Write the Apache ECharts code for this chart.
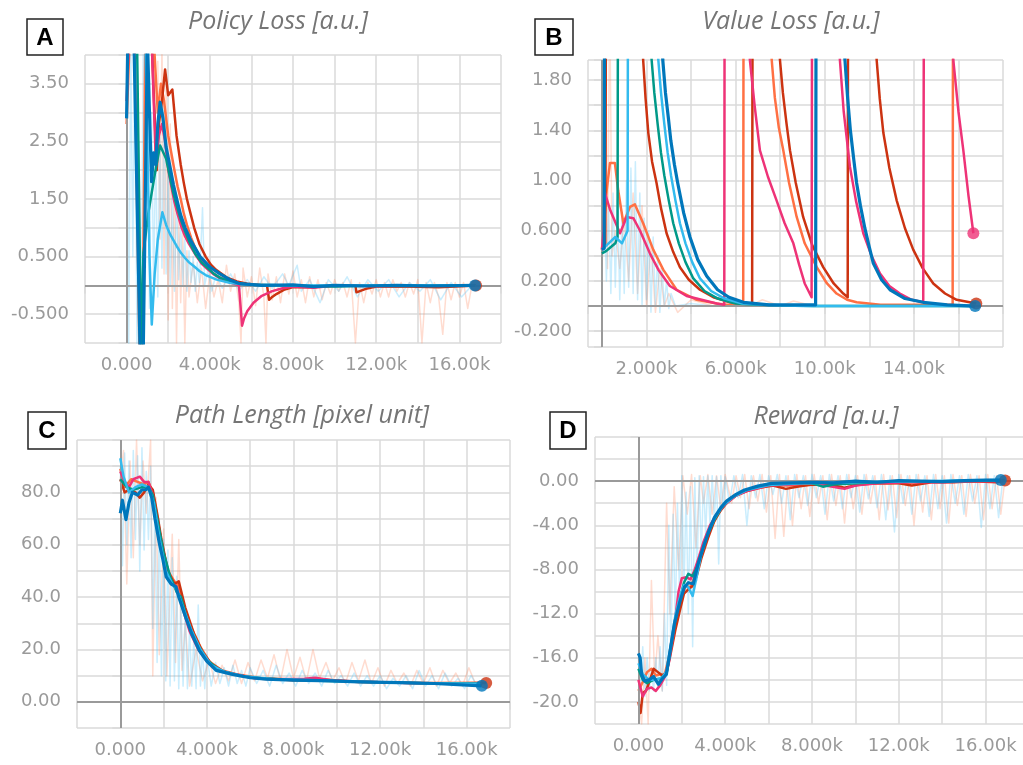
<!DOCTYPE html>
<html>
<head>
<meta charset="utf-8">
<script src="https://cdn.jsdelivr.net/npm/echarts@6/dist/echarts.min.js"></script>
<style>
  html, body { margin: 0; padding: 0; background: #fff; }
  #chart { width: 1023px; height: 765px; }
</style>
</head>
<body>
<div id="chart"></div>
<script>
// tensorboard run colours
const ORANGE = '#ff7043', BLUE = '#0077bb', RED = '#cc3311', CYAN = '#33bbee', PINK = '#ee3377', TEAL = '#009988';

// ---- tick labels
const xTickVals = [0, 4000, 8000, 12000, 16000];
const xTickText = ['0.000', '4.000k', '8.000k', '12.00k', '16.00k'];
const bxTickVals = [2000, 6000, 10000, 14000];
const bxTickText = ['2.000k', '6.000k', '10.00k', '14.00k'];
const aYVals = [3.5, 2.5, 1.5, 0.5, -0.5];
const aYText = ['3.50', '2.50', '1.50', '0.500', '-0.500'];
const bYVals = [1.8, 1.4, 1.0, 0.6, 0.2, -0.2];
const bYText = ['1.80', '1.40', '1.00', '0.600', '0.200', '-0.200'];
const cYVals = [80, 60, 40, 20, 0];
const cYText = ['80.0', '60.0', '40.0', '20.0', '0.00'];
const dYVals = [0, -4, -8, -12, -16, -20];
const dYText = ['0.00', '-4.00', '-8.00', '-12.0', '-16.0', '-20.0'];

const titles = ['Policy Loss [a.u.]', 'Value Loss [a.u.]', 'Path Length [pixel unit]', 'Reward [a.u.]'];
const panelLetters = ['A', 'B', 'C', 'D'];

// ---- A: policy loss (smoothed)
const aOrange = [[0,2.8],[150,4.3],[380,4.3],[620,-1.2],[760,-1.2],[900,4.3],[1300,4.3],[1500,3.0],[1650,3.5],[1800,3.2],[2000,2.6],[2150,2.3],[2300,2.0],[2450,1.72],[2600,1.5],[2750,1.25],[2900,1.05],[3100,0.83],[3300,0.65],[3550,0.48],[3800,0.35],[4100,0.23],[4400,0.15],[5000,0.06],[5800,0.02],[7000,0.0],[9000,-0.02],[11000,0.0],[13000,-0.02],[15000,0.0],[16800,0.0]];
const aRed = [[1200,4.3],[1450,2.0],[1550,2.8],[1700,3.2],[1850,3.75],[2000,3.3],[2200,3.4],[2400,2.6],[2600,2.1],[2750,1.78],[2900,1.5],[3050,1.28],[3250,1.0],[3500,0.72],[3800,0.5],[4050,0.36],[4300,0.27],[4800,0.14],[5300,0.07],[5800,0.03],[6500,0.0],[6750,0.0],[6850,-0.25],[7000,-0.2],[7200,-0.15],[7600,-0.07],[8000,-0.03],[9000,-0.03],[10000,0.0],[11000,0.0],[11050,-0.12],[11500,-0.06],[12000,-0.02],[13500,-0.02],[15000,-0.03],[16800,0.0]];
const aPink = [[0,3.2],[120,4.3],[1200,4.3],[1400,2.2],[1550,2.6],[1700,2.8],[1850,2.5],[2010,2.0],[2150,1.72],[2300,1.45],[2450,1.24],[2650,1.0],[2800,0.86],[3000,0.72],[3370,0.5],[3600,0.38],[3900,0.28],[4200,0.19],[4500,0.12],[5000,0.05],[5400,0.0],[5550,-0.7],[5650,-0.57],[5800,-0.45],[6100,-0.3],[6500,-0.18],[7000,-0.1],[7500,-0.05],[8000,-0.02],[9000,-0.04],[10000,0.0],[12000,-0.01],[14000,0.0],[16700,0.0]];
const aTeal = [[500,4.3],[700,-1.2],[810,0.57],[1050,1.27],[1370,1.96],[1610,2.43],[1700,2.4],[1900,2.2],[2100,1.85],[2250,1.6],[2400,1.4],[2600,1.15],[2800,0.95],[3050,0.73],[3300,0.55],[3600,0.4],[3900,0.3],[4200,0.2],[4500,0.13],[5200,0.04],[6000,0.01],[8000,0.0],[10000,-0.02],[12000,0.0],[16700,0.0]];
const aCyan = [[900,4.3],[1100,0.5],[1210,-0.68],[1350,0.2],[1500,0.8],[1720,1.27],[1900,1.05],[2100,0.88],[2410,0.68],[2600,0.57],[2800,0.48],[3000,0.4],[3210,0.34],[3500,0.25],[3800,0.18],[4330,0.1],[5000,0.04],[6000,0.01],[8000,0.0],[12000,0.0],[16700,0.0]];
const aBlue = [[0,2.9],[60,4.3],[350,4.3],[650,-1.2],[800,-1.2],[1000,4.3],[1100,3.0],[1200,1.8],[1300,2.3],[1400,2.1],[1500,2.8],[1610,3.18],[1750,2.9],[1900,2.4],[2120,2.0],[2250,1.75],[2410,1.5],[2600,1.22],[2810,1.0],[3100,0.77],[3530,0.5],[4000,0.32],[4490,0.2],[5000,0.09],[5450,0.03],[6500,0.0],[8000,0.01],[9000,-0.02],[10000,0.0],[11500,-0.01],[13000,0.0],[14500,-0.01],[16750,0.0]];
const aRawBlue = [[0,4.2],[100,-1.1],[200,4.2],[300,0.5],[400,4.2],[500,-1.1],[600,2.5],[700,-1.1],[800,4.2],[900,0.3],[1000,4.2],[1100,-0.4],[1200,3.0],[1300,0.0],[1400,2.4],[1500,-0.2],[1600,2.6],[1700,0.3],[1800,3.2],[1900,0.2],[2000,2.0],[2100,0.0],[2200,1.6],[2300,-0.1],[2400,1.5],[2500,0.1],[2600,1.1],[2700,0.0],[2800,0.8],[2900,-0.1],[3000,0.6],[3100,0.05],[3200,0.5],[3300,-0.1],[3400,0.4],[3500,0.05],[3650,1.35],[3750,0.0],[3900,0.25],[4100,-0.1],[4300,0.2],[4600,-0.05],[5000,0.2],[5400,-0.1],[5800,0.1],[6200,-0.1],[6600,0.15],[7000,-0.05],[7500,0.2],[7800,0.0],[8200,0.35],[8400,-0.1],[8800,0.1],[9300,-0.3],[9700,0.1],[10200,-0.1],[10600,0.15],[11100,-0.2],[11600,0.1],[12100,-0.1],[12600,0.1],[13100,-0.2],[13600,0.05],[14100,-0.1],[14600,0.1],[15100,-0.25],[15600,0.05],[16100,-0.2],[16600,0.0]];
const aRawOrange = [[1500,3.9],[1600,0.8],[1700,4.2],[1800,0.2],[1900,3.5],[2000,-0.6],[2100,2.8],[2200,-0.4],[2300,1.8],[2400,-1.0],[2500,1.2],[2600,-0.3],[2700,0.9],[2800,-1.0],[2900,0.6],[3000,-0.2],[3200,0.4],[3400,-0.3],[3600,0.3],[3800,-0.4],[4000,0.2],[4200,-0.2],[4400,0.1],[4600,-0.3],[4800,0.35],[5000,-0.1],[5200,0.2],[5400,-0.3],[5500,-1.0],[5600,0.3],[5800,-0.2],[6000,0.15],[6200,-0.35],[6400,0.3],[6600,-0.2],[6700,-1.0],[6800,0.2],[7000,-0.25],[7200,0.15],[7400,-0.3],[7600,0.2],[7800,-0.15],[8000,0.25],[8200,-0.2],[8400,0.1],[8600,-0.3],[8800,0.15],[9000,-0.2],[9200,0.1],[9400,-0.25],[9600,0.05],[9800,-0.15],[10000,0.1],[10200,-0.1],[10400,0.05],[10600,-0.2],[10800,0.1],[11000,-1.0],[11200,0.05],[11400,-0.3],[11600,0.05],[11800,-0.15],[12000,0.1],[12200,-0.2],[12400,0.05],[12600,-0.2],[12800,0.1],[13000,-0.1],[13200,0.05],[13400,-0.2],[13600,0.05],[13800,-0.15],[14000,0.1],[14200,-1.0],[14400,0.05],[14600,-0.3],[14800,0.05],[15000,-0.2],[15200,-0.85],[15400,0.05],[15600,-0.25],[15800,0.05],[16000,-0.2],[16200,0.05],[16400,-0.4],[16600,0.0]];

// ---- B: value loss (smoothed; the jumps come from spikes in the raw loss)
const bOrange = [[0,0.45],[60,0.45],[210,0.92],[360,1.14],[580,1.14],[730,0.92],[960,0.66],[1260,0.79],[1480,0.81],[1850,0.66],[2300,0.45],[2750,0.29],[3350,0.13],[4250,0.05],[5450,0.01],[6340,0.01],[6370,5],[7560,2.2],[7620,1.96],[7760,1.66],[7940,1.42],[8140,1.24],[8400,0.98],[8740,0.71],[9100,0.5],[9640,0.31],[10100,0.18],[10530,0.1],[11000,0.05],[11430,0.03],[12500,0.01],[15740,0.01],[15770,5]];
const bRed = [[0,0.45],[150,0.5],[220,5],[1790,2.2],[1850,1.96],[1960,1.65],[2080,1.38],[2250,1.15],[2450,0.98],[2650,0.78],[2900,0.58],[3200,0.43],[3500,0.31],[3900,0.21],[4400,0.13],[5000,0.07],[5750,0.03],[6740,0.01],[6780,5],[7930,2.2],[7990,1.96],[8120,1.7],[8280,1.46],[8440,1.24],[8700,0.98],[9030,0.71],[9450,0.48],[9930,0.31],[10400,0.18],[10830,0.1],[11030,0.07],[11060,5],[12270,2.2],[12330,1.96],[12470,1.65],[12630,1.38],[12900,1.1],[13230,0.84],[13600,0.62],[13970,0.45],[14400,0.3],[14870,0.18],[15400,0.1],[15920,0.05],[16800,0.02]];
const bPink = [[0,0.45],[80,0.6],[135,0.9],[360,0.77],[810,0.58],[1110,0.71],[1410,0.7],[1710,0.6],[2150,0.42],[2530,0.29],[3050,0.16],[3800,0.08],[5150,0.02],[5490,0.01],[5520,5],[6580,2.2],[6640,1.96],[6850,1.6],[7090,1.24],[7450,1.03],[7840,0.84],[8200,0.66],[8590,0.5],[8850,0.33],[9100,0.18],[9410,0.07],[9450,5],[10620,2.2],[10680,1.96],[10850,1.55],[11130,1.11],[11400,0.84],[11730,0.58],[12100,0.4],[12480,0.26],[12900,0.16],[13370,0.1],[13900,0.05],[14420,0.03],[14480,5],[15720,2.2],[15770,1.96],[16000,1.55],[16220,1.24],[16450,0.88],[16670,0.58]];
const bTeal = [[0,0.42],[200,0.44],[400,0.47],[600,0.5],[700,0.55],[740,5],[2170,2.2],[2230,1.96],[2350,1.7],[2500,1.45],[2650,1.22],[2800,1.04],[3000,0.84],[3200,0.66],[3450,0.5],[3750,0.35],[4100,0.22],[4600,0.12],[5200,0.06],[6000,0.02],[7000,0.01],[9500,0.0],[12000,0.0],[16700,0.0]];
const bCyan = [[0,0.45],[300,0.5],[600,0.55],[900,0.5],[1150,0.6],[1190,5],[2470,2.2],[2530,1.96],[2650,1.7],[2800,1.45],[2950,1.22],[3100,1.04],[3300,0.84],[3500,0.66],[3750,0.5],[4050,0.35],[4400,0.22],[4900,0.12],[5500,0.06],[6300,0.02],[7300,0.01],[9000,0.0],[16700,0.0]];
const bBlue = [[0,0.45],[100,0.46],[140,5],[2670,2.2],[2730,1.96],[2850,1.7],[2980,1.5],[3090,1.32],[3250,1.13],[3400,0.98],[3670,0.74],[3950,0.55],[4300,0.37],[4700,0.24],[5190,0.13],[5700,0.07],[6350,0.03],[7500,0.01],[9590,0.01],[9630,5],[10850,2.2],[10906,1.96],[11030,1.65],[11150,1.4],[11300,1.17],[11430,0.98],[11600,0.8],[11800,0.62],[12000,0.47],[12180,0.34],[12550,0.21],[12930,0.13],[13600,0.06],[14420,0.03],[15500,0.01],[16750,0.0]];
const bRawBlue = [[0,0.3],[100,0.85],[200,0.2],[300,0.8],[400,0.1],[500,0.9],[600,0.15],[700,0.85],[800,0.05],[900,0.75],[1000,0.1],[1100,1.0],[1200,0.15],[1300,1.1],[1400,0.1],[1500,1.15],[1600,0.05],[1700,0.9],[1800,0.0],[1900,0.7],[2000,0.05],[2100,0.6],[2200,-0.05],[2300,0.55],[2400,0.0],[2500,0.4],[2600,-0.05],[2700,0.3],[2800,0.0],[2900,0.2],[3000,-0.02],[3100,0.1],[3300,0.0],[4000,0.02],[5000,0.0]];
const bRawOrange = [[0,0.5],[150,2.5],[250,0.3],[350,2.5],[450,0.4],[600,0.6],[800,0.3],[1000,0.7],[1200,0.2],[1400,0.9],[1600,0.1],[1800,0.8],[2000,0.0],[2200,0.5],[2400,-0.05],[2600,0.3],[2800,0.0],[3000,0.1],[3400,-0.05],[4000,0.05],[5000,0.0],[6000,0.06],[6600,0.0],[7200,0.05],[8000,0.0],[8600,0.04],[9500,0.0]];

// ---- C: path length
const cOrange = [[0,89],[200,82],[500,85],[800,84],[1100,83],[1300,84],[1500,80],[1700,71],[1900,61],[2200,50],[2500,46],[2700,44],[3000,35],[3300,28],[3700,21],[4100,15.5],[4700,12],[5500,10.3],[6500,9],[8000,8.5],[10000,8.0],[12000,7.5],[14000,7.2],[16900,7.3]];
const cRed = [[0,85],[200,80],[400,81],[700,80],[900,78],[1100,80],[1300,83],[1500,81],[1700,72],[1900,62],[2200,50],[2500,45],[2700,46],[3000,36],[3400,26],[3800,19],[4200,14.5],[4800,11.5],[5600,10],[6500,8.8],[7200,8.6],[8000,8.2],[9500,8.4],[11000,7.6],[13000,7.3],[15000,7.0],[16900,7.2]];
const cPink = [[0,88],[200,84],[400,82],[600,85],[900,86],[1100,84],[1300,84],[1500,79],[1700,68],[1900,58],[2100,50],[2300,46],[2600,44],[2900,35],[3200,27],[3600,20],[4000,15.5],[4500,12],[5300,10.5],[6200,9],[7200,8.6],[8500,8.8],[9000,9.2],[10000,8.0],[12000,7.5],[14000,7.0],[16700,6.9]];
const cTeal = [[0,85],[300,82],[600,81],[1000,82],[1300,82],[1500,79],[1700,70],[2000,57],[2300,48],[2600,42],[2800,40],[3100,31],[3500,23],[4000,16],[4600,12],[5500,10],[6500,9],[8000,8.3],[10000,7.9],[12000,7.5],[14000,7.1],[16700,7.0]];
const cCyan = [[0,93],[150,86],[400,80],[700,82],[1000,83],[1300,82],[1550,76],[1800,63],[2100,50],[2400,45],[2600,43],[2900,36],[3300,27],[3700,20],[4200,14],[4800,11.5],[5700,9.8],[7000,8.7],[9000,8.2],[11000,7.7],[13000,7.3],[15000,7.0],[16700,6.9]];
const cBlue = [[0,72],[100,77],[260,69.6],[400,76],[560,80],[800,79],[1000,81],[1190,81],[1300,82],[1450,78],[1600,70],[1800,60.7],[1950,55],[2120,47.7],[2350,45],[2570,44],[2700,40],[3030,32],[3300,26],[3650,19.6],[4000,15.5],[4430,12],[5180,10.5],[6000,9.2],[6730,8.7],[8000,8.3],[9800,8.0],[11000,7.6],[12900,7.3],[14500,7.0],[16700,6.1]];
const cRawBlue = [[0,90],[100,52],[200,95],[300,60],[400,92],[500,55],[600,96],[700,62],[800,94],[900,50],[1000,97],[1100,58],[1200,88],[1300,62],[1400,90],[1500,28],[1600,75],[1700,15],[1800,70],[1900,10],[2000,62],[2100,8],[2200,58],[2300,6],[2400,55],[2500,8],[2600,48],[2700,5],[2800,40],[2900,6],[3000,35],[3100,5],[3200,28],[3300,6],[3400,25],[3500,5],[3600,37],[3700,6],[3800,20],[3900,5],[4000,18],[4200,6],[4400,15],[4600,7],[4800,13],[5000,6],[5200,14],[5400,7],[5600,12],[5800,6],[6000,13],[6300,7],[6600,12],[6900,6],[7200,14],[7500,7],[7800,11],[8100,6],[8400,12],[8700,7],[9000,11],[9300,6],[9600,12],[9900,7],[10200,10],[10500,6],[10800,11],[11100,6],[11400,10],[11700,6],[12000,10],[12300,5],[12600,9],[12900,6],[13200,10],[13500,5],[13800,12],[14100,6],[14400,10],[14700,5],[15000,11],[15300,6],[15600,9],[15900,5],[16200,10],[16500,6],[16800,7]];
const cRawOrange = [[0,85],[150,96],[300,45],[450,92],[600,55],[750,100],[900,60],[1050,92],[1200,72],[1400,100],[1500,10],[1650,78],[1800,18],[2000,66],[2150,10],[2400,64],[2550,15],[2700,62],[2850,12],[3000,30],[3200,6],[3500,20],[3800,8],[4100,16],[4400,7],[4700,14],[5000,8],[5300,16],[5600,7],[5900,15],[6200,8],[6500,16],[6800,9],[7100,18],[7400,8],[7700,20],[8000,9],[8300,17],[8600,8],[8900,20],[9200,9],[9500,15],[9800,8],[10100,13],[10400,7],[10700,15],[11000,8],[11300,16],[11600,7],[11900,13],[12200,6],[12500,12],[12800,7],[13100,11],[13400,6],[13700,12],[14000,7],[14300,13],[14600,6],[14900,12],[15200,7],[15500,11],[15800,6],[16100,13],[16400,7],[16800,8]];

// ---- D: reward
const dOrange = [[0,-19],[200,-18.2],[400,-17.3],[600,-17.0],[800,-17.6],[1000,-17.5],[1200,-17.6],[1400,-16.0],[1600,-13.6],[1800,-11.6],[2000,-10.2],[2200,-9.5],[2400,-9.6],[2600,-8.6],[2800,-7.2],[3100,-5.4],[3400,-4.0],[3700,-2.9],[4000,-2.1],[4500,-1.3],[5000,-0.8],[6000,-0.4],[7000,-0.4],[8500,-0.3],[10000,-0.2],[11500,-0.2],[13000,-0.1],[14500,0.0],[16000,0.0],[16900,0.1]];
const dRed = [[0,-20],[100,-21],[200,-19.2],[350,-19],[500,-18.2],[700,-17.0],[900,-17.3],[1100,-17.6],[1300,-17.3],[1500,-15.5],[1700,-13.5],[1900,-11.8],[2100,-10.2],[2300,-9.8],[2500,-9.5],[2700,-8.5],[2900,-7.0],[3200,-5.2],[3500,-3.6],[3800,-2.6],[4100,-1.9],[4500,-1.3],[5000,-0.9],[5600,-0.6],[6200,-0.4],[6800,-0.7],[7300,-0.5],[8000,-0.3],[9000,-0.4],[9500,-0.6],[10200,-0.3],[11000,-0.2],[12000,-0.2],[12600,-0.4],[13500,-0.1],[14500,-0.1],[15500,0.0],[16500,-0.1],[16900,0.05]];
const dPink = [[0,-18],[200,-19.5],[400,-18.8],[600,-18.7],[800,-19.0],[1000,-18.5],[1200,-17.8],[1400,-16.5],[1600,-14],[1850,-10],[2000,-8.8],[2200,-8.7],[2400,-8.9],[2600,-8.0],[2800,-6.8],[3000,-5.5],[3300,-4.0],[3600,-3.0],[4000,-2.1],[4500,-1.3],[5000,-0.9],[6000,-0.4],[7000,-0.3],[8000,-0.2],[9500,-0.7],[10000,-0.4],[11000,-0.2],[12500,-0.1],[14000,-0.1],[15500,0.0],[16700,0.0]];
const dTeal = [[0,-17],[200,-18],[400,-18.3],[700,-18],[1000,-17.9],[1300,-17.4],[1500,-15],[1700,-12.6],[1900,-10.8],[2100,-9.2],[2300,-8.4],[2500,-8.6],[2700,-7.8],[2900,-6.5],[3200,-4.8],[3500,-3.5],[3800,-2.5],[4200,-1.6],[4700,-1.0],[5300,-0.6],[6000,-0.35],[7000,-0.2],[8000,-0.2],[8500,-0.5],[9000,-0.3],[10500,-0.15],[12000,0.0],[14000,0.0],[16700,0.05]];
const dCyan = [[0,-16.5],[200,-17.5],[500,-18],[800,-18],[1100,-17.8],[1300,-17.2],[1500,-14.8],[1700,-12.2],[1900,-10.6],[2100,-9.4],[2300,-9.6],[2500,-10.4],[2700,-8.5],[2900,-6.6],[3200,-4.7],[3500,-3.4],[3900,-2.2],[4400,-1.4],[5000,-0.8],[6000,-0.35],[7500,-0.2],[9000,-0.15],[11000,-0.05],[13000,0.0],[15000,0.05],[16700,0.1]];
const dBlue = [[0,-15.6],[80,-16],[150,-17.5],[280,-18.1],[500,-18.0],[700,-17.7],[920,-18.4],[1100,-17.9],[1290,-17.5],[1450,-15.5],[1660,-12.9],[1900,-11.0],[2120,-9.6],[2300,-9.2],[2530,-9.3],[2750,-7.5],[2990,-6.0],[3250,-4.5],[3500,-3.3],[3800,-2.4],[4060,-1.8],[4500,-1.2],[4890,-0.8],[5500,-0.45],[6130,-0.2],[7000,-0.15],[8000,-0.1],[9000,-0.15],[10000,0.0],[11000,-0.1],[12000,0.05],[13000,0.0],[14000,-0.05],[15000,0.05],[16000,0.1],[16700,0.1]];
const dRawBlue = [[0,-16],[100,-19],[200,-15],[300,-19.5],[400,-16],[500,-19],[600,-17],[700,-19],[800,-16],[900,-18.8],[1000,-15],[1100,-19],[1200,-12],[1300,-18.5],[1400,-4],[1500,-16],[1600,-3],[1700,-13],[1800,-2],[1900,-11],[2000,0.5],[2100,-10],[2200,-1],[2300,-12],[2400,-0.5],[2500,-15],[2600,0.3],[2700,-9],[2800,0.5],[2900,-7],[3000,0.4],[3100,-5],[3200,0.5],[3300,-4],[3400,0.5],[3500,-3.5],[3600,0.4],[3700,-7.5],[3800,0.5],[3900,-2.5],[4000,0.4],[4200,-2],[4400,0.5],[4600,-1.5],[4800,0.6],[5000,-4],[5200,0.5],[5400,-1.5],[5600,0.6],[5800,-2.5],[6000,0.5],[6200,-1.2],[6400,0.6],[6600,-2],[6800,0.5],[7000,-3.5],[7200,0.6],[7400,-1.5],[7600,0.5],[7800,-2.2],[8000,0.6],[8200,-1.5],[8400,0.5],[8600,-3],[8800,0.6],[9000,-1.8],[9200,0.5],[9400,-2.5],[9600,0.6],[9800,-1.5],[10000,0.5],[10200,-2.8],[10400,0.6],[10600,-1.6],[10800,0.5],[11000,-2.4],[11200,0.6],[11400,-3.5],[11600,0.5],[11800,-4.6],[12000,0.6],[12200,-2],[12400,0.5],[12600,-3],[12800,0.6],[13000,-1.8],[13200,0.5],[13400,-3.2],[13600,0.6],[13800,-2.5],[14000,0.5],[14200,-3.8],[14400,0.6],[14600,-2],[14800,0.5],[15000,-3],[15200,0.6],[15400,-1.8],[15600,0.5],[15800,-4.2],[16000,0.6],[16200,-2.5],[16400,0.5],[16600,-3.3],[16800,0.3]];
const dRawOrange = [[0,-20],[150,-22],[300,-16],[450,-22],[600,-9],[750,-18],[900,-14],[1100,-19],[1300,-2],[1450,-12],[1650,-0.5],[1850,-8],[2050,0.5],[2250,-3],[2450,0.6],[2650,-6],[2850,0.5],[3000,-2],[3200,0.6],[3400,-3],[3600,0.5],[3800,-2.5],[4000,0.6],[4300,-2],[4500,0.5],[4700,-1.5],[4900,0.6],[5100,-2.5],[5300,0.5],[5500,-1.8],[5700,0.6],[5900,-2.8],[6100,0.5],[6300,-5.2],[6500,0.6],[6700,-5.0],[6900,0.5],[7100,-4.0],[7300,0.6],[7500,-2.5],[7700,0.5],[7900,-3.2],[8100,0.6],[8300,-2.0],[8500,0.5],[8700,-3.5],[8900,0.6],[9100,-2.2],[9300,0.5],[9500,-3.8],[9700,0.6],[9900,-2.5],[10100,0.5],[10300,-3],[10500,0.6],[10700,-2],[10900,0.5],[11100,-3.5],[11300,0.6],[11500,-2.6],[11700,0.5],[11900,-3.3],[12100,0.6],[12300,-2.2],[12500,0.5],[12700,-4],[12900,0.6],[13100,-2.8],[13300,0.5],[13500,-3.5],[13700,0.6],[13900,-2.5],[14100,0.5],[14300,-3.8],[14500,0.6],[14700,-2.2],[14900,0.5],[15100,-3.2],[15300,0.6],[15500,-2.0],[15700,0.5],[15900,-3.5],[16100,0.6],[16300,-2.5],[16500,0.5],[16700,-3.0],[16900,0.3]];

// layout of the four plots
const grids = [
  { left: 85, top: 55, width: 416, height: 288 },
  { left: 588, top: 60, width: 415, height: 287 },
  { left: 77, top: 440, width: 433, height: 288 },
  { left: 595, top: 437, width: 434, height: 287 }
];

const GRID_COL = '#dadada';
const LABEL_COL = '#9a9a9a';

function pick(vals, text, tol) {
  return function (v) {
    for (let i = 0; i < vals.length; i++) {
      if (Math.abs(vals[i] - v) < tol) return text[i];
    }
    return '';
  };
}

function axis(g, opts, isX) {
  return Object.assign({
    type: 'value',
    gridIndex: g,
    axisLine: { show: false },
    axisTick: { show: true, length: 8, lineStyle: { color: GRID_COL, width: 1.5 } },
    splitLine: { show: true, lineStyle: { color: GRID_COL, width: 1.5 } },
    axisLabel: {
      color: LABEL_COL, fontSize: 18, fontFamily: 'DejaVu Sans',
      margin: isX ? 13 : 16, hideOverlap: false
    }
  }, opts);
}

function line(g, data, color, width, opacity, z) {
  return {
    type: 'line', xAxisIndex: g, yAxisIndex: g, data: data,
    showSymbol: false, symbol: 'none', clip: true, silent: true, smooth: false,
    lineStyle: { color: color, width: width, opacity: opacity, join: 'round' },
    itemStyle: { color: color }, z: z, animation: false
  };
}

function endDot(g, data, color) {
  return {
    type: 'scatter', xAxisIndex: g, yAxisIndex: g, data: [data[data.length - 1]],
    symbolSize: 12, itemStyle: { color: color }, z: 10, silent: true, animation: false
  };
}

function zeroLines(g) {
  return {
    type: 'line', xAxisIndex: g, yAxisIndex: g, data: [], z: 1, silent: true,
    markLine: {
      silent: true, symbol: 'none', animation: false, label: { show: false },
      lineStyle: { color: '#9a9a9a', width: 2, type: 'solid' },
      data: [{ xAxis: 0 }, { yAxis: 0 }]
    }
  };
}

const xAxes = [
  axis(0, { min: -2000, max: 18000, interval: 2000 }, true),
  axis(1, { min: -626, max: 18000, splitNumber: 9 }, true),
  axis(2, { min: -2000, max: 18000, interval: 2000 }, true),
  axis(3, { min: -2000, max: 18000, interval: 2000 }, true)
];
xAxes[0].axisLabel.formatter = pick(xTickVals, xTickText, 1);
xAxes[1].axisLabel.formatter = pick(bxTickVals, bxTickText, 1);
xAxes[2].axisLabel.formatter = pick(xTickVals, xTickText, 1);
xAxes[3].axisLabel.formatter = pick(xTickVals, xTickText, 1);

const yAxes = [
  axis(0, { min: -1, max: 4, interval: 0.5 }, false),
  axis(1, { min: -0.326, max: 1.96, splitNumber: 11 }, false),
  axis(2, { min: -10, max: 100, interval: 10 }, false),
  axis(3, { min: -22, max: 4, interval: 2 }, false)
];
yAxes[0].axisLabel.formatter = pick(aYVals, aYText, 1e-4);
yAxes[1].axisLabel.formatter = pick(bYVals, bYText, 1e-4);
yAxes[2].axisLabel.formatter = pick(cYVals, cYText, 1e-4);
yAxes[3].axisLabel.formatter = pick(dYVals, dYText, 1e-4);

const panels = [
  { raw: [aRawOrange, aRawBlue], runs: [aOrange, aRed, aPink, aTeal, aCyan, aBlue], dots: [[aRed, RED], [aBlue, BLUE]] },
  { raw: [bRawOrange, bRawBlue], runs: [bOrange, bRed, bPink, bTeal, bCyan, bBlue], dots: [[bRed, RED], [bBlue, BLUE], [bPink, PINK]] },
  { raw: [cRawOrange, cRawBlue], runs: [cOrange, cRed, cPink, cTeal, cCyan, cBlue], dots: [[cRed, RED], [cBlue, BLUE]] },
  { raw: [dRawOrange, dRawBlue], runs: [dOrange, dRed, dPink, dTeal, dCyan, dBlue], dots: [[dRed, RED], [dBlue, BLUE]] }
];
const runColors = [ORANGE, RED, PINK, TEAL, CYAN, BLUE];

const series = [];
panels.forEach(function (p, g) {
  series.push(zeroLines(g));
  series.push(line(g, p.raw[0], '#ff8a65', 1.5, 0.3, 2));
  series.push(line(g, p.raw[1], '#4fc3f7', 1.5, 0.3, 2));
  p.runs.forEach(function (r, i) {
    series.push(line(g, r, runColors[i], i === 5 ? 3.2 : 2.5, 1, 3 + i));
  });
  p.dots.forEach(function (d) { series.push(endDot(g, d[0], d[1])); });
});

// titles and panel letters
const titlePos = [[278, 22], [791, 22], [302, 416], [826, 417]];
const boxPos = [[27, 19, 36, 36], [535, 19, 38, 36], [28, 412, 38, 37], [550, 412, 36, 37]];
const graphic = [];
titles.forEach(function (t, i) {
  graphic.push({
    type: 'text', silent: true,
    style: {
      text: t, x: titlePos[i][0], y: titlePos[i][1],
      textAlign: 'center', align: 'center', textVerticalAlign: 'middle', verticalAlign: 'middle',
      fill: '#757575', font: 'italic 25px "Open Sans"'
    }
  });
  const b = boxPos[i];
  graphic.push({
    type: 'rect', silent: true,
    shape: { x: b[0], y: b[1], width: b[2], height: b[3] },
    style: { fill: '#fff', stroke: '#222', lineWidth: 1.5 }
  });
  graphic.push({
    type: 'text', silent: true,
    style: {
      text: panelLetters[i], x: b[0] + b[2] / 2, y: b[1] + b[3] / 2 + 1,
      textAlign: 'center', align: 'center', textVerticalAlign: 'middle', verticalAlign: 'middle',
      fill: '#000', font: 'bold 24px "Liberation Sans"'
    }
  });
});

const chart = echarts.init(document.getElementById('chart'), null, { renderer: 'canvas' });
chart.setOption({
  animation: false,
  backgroundColor: '#fff',
  grid: grids.map(function (g) { return Object.assign({ outerBoundsMode: 'none', containLabel: false }, g); }),
  xAxis: xAxes,
  yAxis: yAxes,
  series: series,
  graphic: graphic
});
</script>
</body>
</html>
